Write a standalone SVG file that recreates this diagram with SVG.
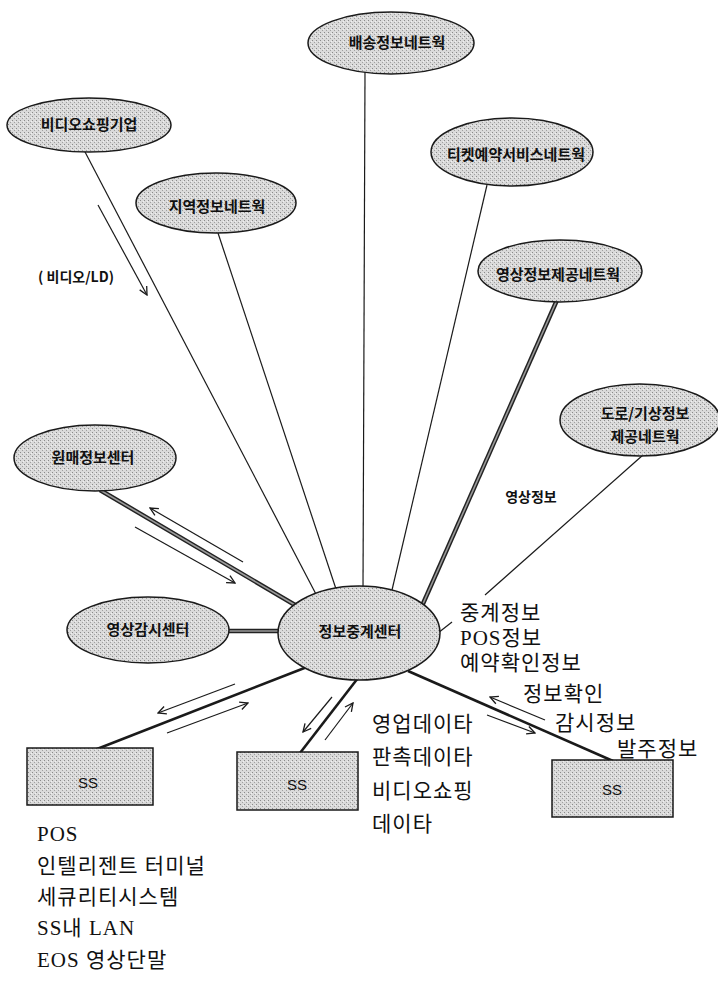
<svg xmlns="http://www.w3.org/2000/svg" width="718" height="1007" viewBox="0 0 718 1007">
<style>
.node{fill:url(#stip);stroke:#1a1a1a;stroke-width:1.5}
.lbl{font-family:"Noto Sans CJK KR","Liberation Sans",sans-serif;font-weight:bold;font-size:15px;fill:#111;text-anchor:middle}
.ss{font-family:"Liberation Sans",Arial,sans-serif;font-size:15px;fill:#111;text-anchor:middle}
.thin{stroke:#1a1a1a;stroke-width:1.2;fill:none}
.thick{stroke:#1a1a1a;stroke-width:2.6;fill:none}
.dblo{stroke:#222;stroke-width:4.5;fill:none}
.dbli{stroke:#9a9a9a;stroke-width:1.6;fill:none}
.arr{stroke:#1a1a1a;stroke-width:1.2;fill:none;marker-end:url(#ah)}
.note{font-family:"Liberation Serif","Noto Sans CJK KR",serif;font-size:21px;letter-spacing:1px;fill:#111}
</style>
<defs>
<pattern id="stip" width="4" height="4" patternUnits="userSpaceOnUse">
<rect width="4" height="4" fill="#dadada"/>
<rect x="0" y="0" width="1" height="1" fill="#8a8a8a"/>
<rect x="2" y="2" width="1" height="1" fill="#a0a0a0"/>
<rect x="3" y="1" width="1" height="1" fill="#f0f0f0"/>
</pattern>
<marker id="ah" viewBox="0 0 10 10" refX="9" refY="5" markerWidth="10" markerHeight="10" markerUnits="userSpaceOnUse" orient="auto">
<path d="M1,1 L9,5 L1,9" fill="none" stroke="#1a1a1a" stroke-width="1.3"/>
</marker>
</defs>
<rect width="718" height="1007" fill="#fff"/>
<g id="connectors">
<line class="thin" x1="84" y1="150" x2="318" y2="598"/>
<line class="thin" x1="218" y1="233" x2="337" y2="592"/>
<line class="thin" x1="365" y1="72" x2="363" y2="590"/>
<line class="thin" x1="487" y1="185" x2="392" y2="590"/>
<line class="dblo" x1="557" y1="300" x2="422" y2="606"/>
<line class="dbli" x1="557" y1="300" x2="422" y2="606"/>
<line class="thin" x1="643" y1="455" x2="485" y2="595"/>
<line class="thin" x1="452" y1="622" x2="438" y2="633"/>
<line class="dblo" x1="100" y1="490" x2="295" y2="605"/>
<line class="dbli" x1="100" y1="490" x2="295" y2="605"/>
<line class="dblo" x1="228" y1="631" x2="280" y2="631"/>
<line class="dbli" x1="228" y1="631" x2="280" y2="631"/>
<line class="thick" x1="97" y1="749" x2="307" y2="667"/>
<line class="thick" x1="300" y1="753" x2="358" y2="678"/>
<line class="thick" x1="408" y1="671" x2="613" y2="761"/>
<line class="arr" x1="98" y1="205" x2="147" y2="295"/>
<line class="arr" x1="243" y1="562" x2="150" y2="508"/>
<line class="arr" x1="135" y1="527" x2="235" y2="583"/>
<line class="arr" x1="235" y1="684" x2="158" y2="713"/>
<line class="arr" x1="167" y1="733" x2="248" y2="703"/>
<line class="arr" x1="332" y1="697" x2="303" y2="732"/>
<line class="arr" x1="325" y1="740" x2="353" y2="703"/>
<line class="arr" x1="545" y1="720" x2="490" y2="697"/>
<line class="arr" x1="487" y1="715" x2="535" y2="733"/>
</g>
<g id="n-baesong"><ellipse class="node" cx="391" cy="43" rx="83" ry="31"/><text class="lbl" x="397" y="48">배송정보네트웍</text></g>
<g id="n-video"><ellipse class="node" cx="89" cy="125" rx="82" ry="27"/><text class="lbl" x="89" y="130">비디오쇼핑기업</text></g>
<g id="n-jiyeok"><ellipse class="node" cx="216" cy="203" rx="80" ry="30"/><text class="lbl" x="217" y="212">지역정보네트웍</text></g>
<g id="n-ticket"><ellipse class="node" cx="512" cy="152" rx="81" ry="34"/><text class="lbl" x="516" y="160">티켓예약서비스네트웍</text></g>
<g id="n-yeongsang"><ellipse class="node" cx="560" cy="271" rx="82" ry="31"/><text class="lbl" x="558" y="280">영상정보제공네트웍</text></g>
<g id="n-doro"><ellipse class="node" cx="640" cy="420" rx="80" ry="36"/><text class="lbl" x="645" y="419">도로/기상정보</text><text class="lbl" x="645" y="442">제공네트웍</text></g>
<g id="n-wonmae"><ellipse class="node" cx="95" cy="458" rx="81" ry="33"/><text class="lbl" x="93" y="463">원매정보센터</text></g>
<g id="n-gamsi"><ellipse class="node" cx="148" cy="630" rx="81" ry="33"/><text class="lbl" x="148" y="635">영상감시센터</text></g>
<g id="n-center"><ellipse class="node" cx="359" cy="633" rx="81" ry="47"/><text class="lbl" x="360" y="637">정보중계센터</text></g>
<g id="n-ss1"><rect class="node" x="27" y="748" width="126" height="57"/><text class="ss" x="88" y="788">SS</text></g>
<g id="n-ss2"><rect class="node" x="237" y="752" width="121" height="58"/><text class="ss" x="297" y="790">SS</text></g>
<g id="n-ss3"><rect class="node" x="552" y="760" width="121" height="57"/><text class="ss" x="612" y="795">SS</text></g>
<g id="labels">
<text class="lbl" x="76" y="282" style="font-size:14px">( 비디오/LD)</text>
<text class="lbl" x="531" y="502" style="font-size:14px">영상정보</text>
<text class="note" x="460" y="620">중계정보</text>
<text class="note" x="460" y="645">POS정보</text>
<text class="note" x="460" y="670">예약확인정보</text>
<text class="note" x="523" y="701">정보확인</text>
<text class="note" x="555" y="730">감시정보</text>
<text class="note" x="617" y="756">발주정보</text>
<text class="note" x="372" y="731">영업데이타</text>
<text class="note" x="372" y="764">판촉데이타</text>
<text class="note" x="372" y="798">비디오쇼핑</text>
<text class="note" x="372" y="831">데이타</text>
<text class="note" x="37" y="841">POS</text>
<text class="note" x="37" y="873">인텔리젠트 터미널</text>
<text class="note" x="37" y="904">세큐리티시스템</text>
<text class="note" x="37" y="935">SS내 LAN</text>
<text class="note" x="37" y="967">EOS 영상단말</text>
</g>
</svg>
